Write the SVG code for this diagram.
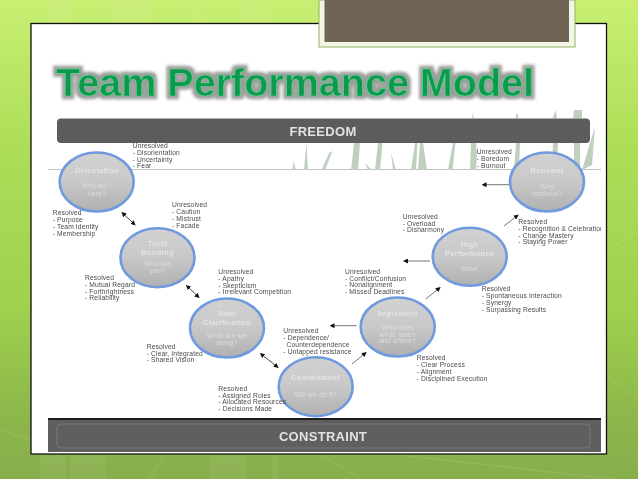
<svg xmlns="http://www.w3.org/2000/svg" width="638" height="479" viewBox="0 0 638 479">
<defs>
<linearGradient id="bg" x1="0" y1="0" x2="0" y2="1"><stop offset="0" stop-color="#c8ef72"/><stop offset="0.3" stop-color="#aede58"/><stop offset="0.65" stop-color="#9fd04e"/><stop offset="0.88" stop-color="#8cb54a"/><stop offset="1" stop-color="#88ae4d"/></linearGradient>
<linearGradient id="node" x1="0" y1="0" x2="0" y2="1"><stop offset="0" stop-color="#d2d2d2"/><stop offset="0.5" stop-color="#c8c8c8"/><stop offset="1" stop-color="#b0b0b0"/></linearGradient>
<filter id="soft" x="-10%" y="-10%" width="120%" height="120%"><feGaussianBlur stdDeviation="0.35"/></filter>
<filter id="softt" x="-10%" y="-30%" width="120%" height="160%"><feGaussianBlur stdDeviation="0.45"/></filter>
<filter id="softer" x="-20%" y="-20%" width="140%" height="140%"><feGaussianBlur stdDeviation="0.7"/></filter>
<filter id="glow" x="-5%" y="-30%" width="110%" height="160%"><feMorphology in="SourceAlpha" operator="dilate" radius="2.600" result="d"/><feGaussianBlur in="d" stdDeviation="1.500" result="b"/><feFlood flood-color="#9a9e9a"/><feComposite in2="b" operator="in" result="s"/><feMerge><feMergeNode in="s"/><feMergeNode in="SourceGraphic"/></feMerge></filter>
<clipPath id="panelClip"><rect x="31" y="23" width="570" height="431"/></clipPath>
<marker id="head" markerWidth="5" markerHeight="5" refX="3.500" refY="2.500" orient="auto-start-reverse" markerUnits="userSpaceOnUse"><path d="M0 0L5 2.500L0 5Z" fill="#111"/></marker>
</defs>
<style>
.l{font:6.7px "Liberation Sans",Arial,sans-serif;fill:#4a4a4a;letter-spacing:.14px;filter:url(#soft)}
.t{font:bold 7.4px "Liberation Sans",Arial,sans-serif;fill:#e4e4e4;text-anchor:middle;letter-spacing:.4px;filter:url(#softt)}
.s{font:6.5px "Liberation Sans",Arial,sans-serif;fill:#dedede;text-anchor:middle;letter-spacing:.3px;filter:url(#softt)}
.c{fill:url(#node);stroke:#6f9ade;stroke-width:2.600;filter:url(#soft)}
.a{stroke:#666;stroke-width:.9;fill:none;marker-end:url(#head)}
.d{stroke:#333;stroke-width:.9;fill:none;marker-start:url(#head);marker-end:url(#head)}
.b{font:bold 13px "Liberation Sans",Arial,sans-serif;fill:#e2e2e2;text-anchor:middle;letter-spacing:.3px;filter:url(#soft)}
</style>
<rect width="638" height="479" fill="url(#bg)"/>
<g fill="#fff" opacity=".05"><rect x="48" y="0" width="22" height="23"/><rect x="110" y="0" width="40" height="23"/><rect x="190" y="0" width="14" height="23"/><rect x="240" y="0" width="30" height="23"/><rect x="40" y="454" width="26" height="25"/><rect x="70" y="454" width="36" height="25"/><rect x="210" y="454" width="36" height="25"/><rect x="272" y="454" width="6" height="25"/></g>
<g stroke="#fff" stroke-opacity=".13" fill="none"><path d="M607 250L638 232M607 375L638 400M390 454L640 482M165 454L150 479M320 454L360 479M0 430L30 440"/></g>
<rect x="31" y="23.500" width="575.500" height="430.500" fill="#fff" stroke="#111" stroke-width="1.300"/>
<rect x="319" y="0" width="256" height="47" fill="#f3f5e6" stroke="#8fb35e" stroke-width="1"/>
<rect x="324.500" y="0" width="244.500" height="42" fill="#706554"/>
<text x="56" y="96" textLength="478" lengthAdjust="spacingAndGlyphs" filter="url(#glow)" style="font:bold 38px 'Liberation Sans',Arial,sans-serif;fill:#0c9a50;stroke:#5fd08f;stroke-width:.7">Team Performance Model</text>
<g id="grass" fill="#bfd0bf" filter="url(#softer)">
<path d="M48 169H601V170H48Z" fill="#bcc4ba"/>
<path d="M292.500 170L293.300 161L296 170Z"/><path d="M304 170L306.500 143L308 170Z"/><path d="M321.500 170L325 170L332.500 151L329 153Z"/><path d="M351 170L354 143H360L358 170Z"/><path d="M375 170L378 143H382.500L380 170Z"/><path d="M365 163L372 170H368Z"/><path d="M391 153L396 170H393Z"/><path d="M411 170L415 143H417.500L416 170Z"/><path d="M418 170L420 143H423L427 170Z"/><path d="M448 170L453 143H455.500L452.500 170Z"/><path d="M470 170L471 143H476L477 155L476 170Z"/><path d="M472 118L473.500 118L473 112Z"/><path d="M515.500 118H518.500L517 112Z"/><path d="M514 170L516 143H520L519 170Z"/><path d="M553 118H557L555.500 110Z"/><path d="M552 170L553 143H558L557 170Z"/><path d="M574 170L574 143H580L580 170Z"/><path d="M573 118L574 110H582L582 118Z"/><path d="M582 170L590 143L595 127L592 165Z"/>
</g>
<g id="freedom"><rect x="57" y="118.500" width="533" height="24.500" rx="4" fill="#5c5c5c"/><text class="b" x="323" y="135.500">FREEDOM</text></g>
<g id="constraint"><rect x="48" y="418" width="553" height="34" fill="#5f5f5f"/><rect x="48" y="418" width="553" height="2" fill="#1c1c1c"/><rect x="57" y="424" width="533" height="24" rx="4" fill="none" stroke="#7e7e7e" stroke-width=".8"/><text class="b" x="323" y="441">CONSTRAINT</text></g>
<g id="connectors">
<path class="d" d="M122.500 213L134.500 224.500"/><path class="d" d="M187 286L198.500 297"/><path class="d" d="M261 354L277.500 367"/>
<path class="a" d="M352 364L365.500 353"/><path class="a" d="M356.500 325.700H331"/><path class="a" d="M425.700 299L439.500 288"/><path class="a" d="M430 261H404.500"/><path class="a" d="M504 226L517.500 215.500"/><path class="a" d="M509 184.700H483"/>
</g>
<g id="orientation"><ellipse class="c" cx="96.700" cy="182" rx="37" ry="29.500"/><text class="t" x="97" y="173">Orientation</text><text class="s" x="97" y="188">Why am I</text><text class="s" x="97" y="196">here?</text>
<text class="l"><tspan x="132.700" y="147.700">Unresolved</tspan><tspan x="132.700" y="155">- Disorientation</tspan><tspan x="132.700" y="161.700">- Uncertainty</tspan><tspan x="132.700" y="168">- Fear</tspan></text>
<text class="l"><tspan x="52.700" y="215">Resolved</tspan><tspan x="52.700" y="222">- Purpose</tspan><tspan x="52.700" y="228.700">- Team Identity</tspan><tspan x="52.700" y="235.700">- Membership</tspan></text></g>
<g id="trust-building"><ellipse class="c" cx="157.500" cy="257.700" rx="37" ry="29.500"/><text class="t" x="157.500" y="245.500">Trust</text><text class="t" x="157.500" y="254.500">Building</text><text class="s" x="157.500" y="266">Who are</text><text class="s" x="157.500" y="273">you?</text>
<text class="l"><tspan x="172" y="207.300">Unresolved</tspan><tspan x="172" y="214.300">- Caution</tspan><tspan x="172" y="221.300">- Mistrust</tspan><tspan x="172" y="228">- Facade</tspan></text>
<text class="l"><tspan x="85" y="279.700">Resolved</tspan><tspan x="85" y="287">- Mutual Regard</tspan><tspan x="85" y="293.700">- Forthrightness</tspan><tspan x="85" y="300.300">- Reliability</tspan></text></g>
<g id="goal-clarification"><ellipse class="c" cx="227" cy="328" rx="37" ry="29.500"/><text class="t" x="227" y="315.500">Goal</text><text class="t" x="227" y="324.500">Clarification</text><text class="s" x="227" y="338">What are we</text><text class="s" x="227" y="345">doing?</text>
<text class="l"><tspan x="218.300" y="273.700">Unresolved</tspan><tspan x="218.300" y="280.700">- Apathy</tspan><tspan x="218.300" y="287.700">- Skepticism</tspan><tspan x="218.300" y="294.300">- Irrelevant Competition</tspan></text>
<text class="l"><tspan x="146.700" y="348.700">Resolved</tspan><tspan x="146.700" y="355.700">- Clear, Integrated</tspan><tspan x="146.700" y="362.300">- Shared Vision</tspan></text></g>
<g id="commitment"><ellipse class="c" cx="315.700" cy="386.700" rx="37" ry="29.500"/><text class="t" x="315.700" y="380">Commitment</text><text class="s" x="315.700" y="397">Will we do it?</text>
<text class="l"><tspan x="283.300" y="333.300">Unresolved</tspan><tspan x="283.300" y="340.300">- Dependence/</tspan><tspan x="286.500" y="347">Counterdependence</tspan><tspan x="283.300" y="354">- Untapped resistance</tspan></text>
<text class="l"><tspan x="218.300" y="390.700">Resolved</tspan><tspan x="218.300" y="397.700">- Assigned Roles</tspan><tspan x="218.300" y="404.300">- Allocated Resources</tspan><tspan x="218.300" y="411.300">- Decisions Made</tspan></text></g>
<g id="implement"><ellipse class="c" cx="397.700" cy="327" rx="37" ry="29.500"/><text class="t" x="397.700" y="316">Implement</text><text class="s" x="397.700" y="330">Who does</text><text class="s" x="397.700" y="336.500">what, when</text><text class="s" x="397.700" y="343">and where?</text>
<text class="l"><tspan x="345" y="273.700">Unresolved</tspan><tspan x="345" y="280.700">- Conflict/Confusion</tspan><tspan x="345" y="287.300">- Nonalignment</tspan><tspan x="345" y="294.300">- Missed Deadlines</tspan></text>
<text class="l"><tspan x="416.700" y="359.700">Resolved</tspan><tspan x="416.700" y="367">- Clear Process</tspan><tspan x="416.700" y="373.700">-  Alignment</tspan><tspan x="416.700" y="380.700">-  Disciplined Execution</tspan></text></g>
<g id="high-performance"><ellipse class="c" cx="469.700" cy="256.700" rx="37" ry="29"/><text class="t" x="469.700" y="246.500">High</text><text class="t" x="469.700" y="255.500">Performance</text><text class="s" x="469.700" y="271">Wow!</text>
<text class="l"><tspan x="402.700" y="218.700">Unresolved</tspan><tspan x="402.700" y="225.700">- Overload</tspan><tspan x="402.700" y="232.300">- Disharmony</tspan></text>
<text class="l"><tspan x="481.700" y="291.300">Resolved</tspan><tspan x="481.700" y="298.300">- Spontaneous Interaction</tspan><tspan x="481.700" y="305">- Synergy</tspan><tspan x="481.700" y="311.700">- Surpassing Results</tspan></text></g>
<g id="renewal"><ellipse class="c" cx="547" cy="182" rx="37" ry="29.500"/><text class="t" x="547" y="172.700">Renewal</text><text class="s" x="547" y="189">Why</text><text class="s" x="547" y="196">continue?</text>
<text class="l"><tspan x="476.700" y="153.700">Unresolved</tspan><tspan x="476.700" y="161">- Boredom</tspan><tspan x="476.700" y="167.700">- Burnout</tspan></text>
<g clip-path="url(#panelClip)"><text class="l"><tspan x="518.300" y="224">Resolved</tspan><tspan x="518.300" y="231">- Recognition &amp; Celebration</tspan><tspan x="518.300" y="237.700">- Change Mastery</tspan><tspan x="518.300" y="244.300">- Staying Power</tspan></text></g></g>
</svg>
